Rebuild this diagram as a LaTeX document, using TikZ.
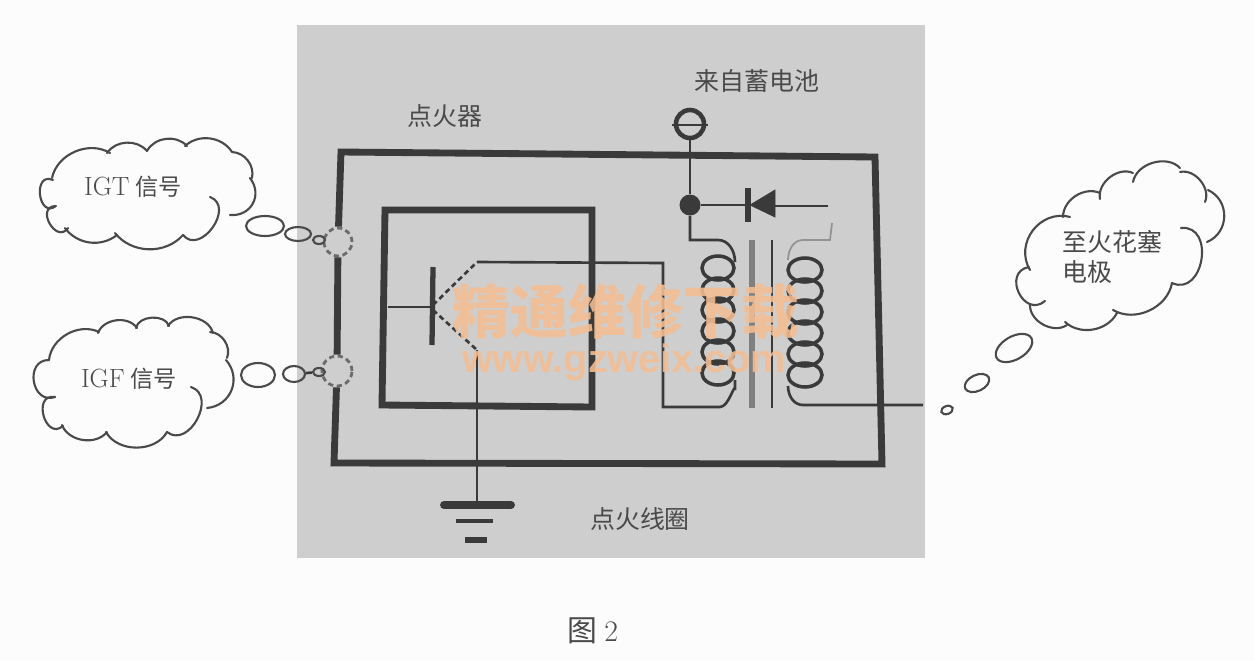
\documentclass[tikz,border=0pt]{standalone}
\usepackage{fontspec}
\usepackage{xcolor}
\usetikzlibrary{shapes.geometric}
\newfontfamily\cjk{Noto Sans CJK SC}
\newfontfamily\wmfont{Liberation Sans}
\definecolor{panelgray}{HTML}{CECECE}
\definecolor{wirecol}{HTML}{3A3A3A}
\definecolor{inkcol}{HTML}{4A4A4A}
\definecolor{markcol}{HTML}{F4BE92}
\tikzset{
  frameline/.style={draw=wirecol, line width=3.9pt, line join=miter},
  wire/.style={draw=wirecol, line width=1.5pt},
  coilline/.style={draw=wirecol, line width=2pt},
  cloudline/.style={draw=inkcol, line width=1.2pt, line cap=round},
  bubble/.style={draw=inkcol, line width=1.2pt, ellipse, inner sep=0pt},
  terminal/.style={circle, draw=wirecol!75, line width=1.6pt, densely dashed, inner sep=0pt, minimum size=0.56cm},
  lab/.style={text=inkcol, inner sep=0pt, font=\fontsize{14.2}{17}\selectfont\cjk},
  cloudlab/.style={text=inkcol, inner sep=0pt, align=left, font=\fontsize{13.2}{17}\selectfont\cjk},
}

\begin{document}
\begin{tikzpicture}[x=0.02cm, y=-0.02cm]
\useasboundingbox (0,0) rectangle (1254,660);
\fill[white!99!black] (0,0) rectangle (1254,660);
\fill[panelgray] (297,25) rectangle (925,558);

% Terminals and junction
\node[terminal] (igt) at (338,242) {};
\node[terminal, minimum size=0.6cm] (igf) at (337,371) {};
\node[circle, draw=wirecol, line width=2.6pt, inner sep=0pt, minimum size=0.56cm] (bat) at (690,124) {};
\node[circle, fill=wirecol, inner sep=0pt, minimum size=0.42cm] (junction) at (690,205) {};
\draw [wire] (672,125) -- (708,125);

% Outer and inner frame
\draw [frameline] (igt) -- (341,152) -- (875,157) -- (882,464) -- (334,463) -- (igf);
\draw [frameline] (igt) -- (igf);
\draw [frameline] (385,210) -- (592,210) -- (592,407) -- (382,405) -- cycle;

% Transistor
\draw [wirecol, line width=3pt] (433,267) -- (432,345);
\draw [wirecol, line width=1pt] (388,307) -- (433,307);
\draw [wire, densely dashed] (433,305) -- (477,262);
\draw [wire, densely dashed] (433,310) -- (477,350);
\draw [wire] (477,262) -- (663,263) -- (663,407) -- (720,407) to [out=0,in=90] (735,390) -- (735,380);
\draw [wire] (477,350) -- (477,502);

% Ground
\draw [wirecol, line width=4.5pt, line cap=round] (444,505) -- (511,505);
\draw [wirecol, line width=2pt] (456,521) -- (493,521);
\draw [wirecol, line width=3pt] (465,540) -- (487,540);

% Battery feed and diode
\draw [wire] (bat) -- (junction);
\draw [wire] (junction) -- (748,205);
\draw [wirecol, line width=3pt] (748,188) -- (748,222);
\filldraw [wirecol] (750,205) -- (775,190) -- (775,217) -- cycle;
\draw [wire] (775,206) -- (828,206);
\draw [wire] (junction) -- (690,240) -- (718,240) to [out=0,in=90] (735,262);

% Primary coil
\draw [coilline] (718,268) ellipse [x radius=16, y radius=12];
\draw [coilline] (718,290) ellipse [x radius=16, y radius=12];
\draw [coilline] (718,310) ellipse [x radius=16, y radius=12];
\draw [coilline] (718,331) ellipse [x radius=16, y radius=12];
\draw [coilline] (718,352) ellipse [x radius=16, y radius=12];
\draw [coilline] (718,373) ellipse [x radius=16, y radius=12];

% Core
\draw [wirecol!65, line width=3pt] (752,240) -- (752,408);
\draw [wirecol, line width=1.6pt] (772,240) -- (772,408);

% Secondary coil
\draw [coilline] (805,270) ellipse [x radius=17, y radius=12];
\draw [coilline] (805,291) ellipse [x radius=17, y radius=12];
\draw [coilline] (805,312) ellipse [x radius=17, y radius=12];
\draw [coilline] (805,333) ellipse [x radius=17, y radius=12];
\draw [coilline] (805,354) ellipse [x radius=17, y radius=12];
\draw [coilline] (805,375) ellipse [x radius=17, y radius=12];
\draw [wirecol!55, line width=1pt] (788,260) to [out=90,in=180] (803,240) -- (830,240) -- (832,223);
\draw [wire] (788,386) to [out=270,in=180] (803,405) -- (923,405);

% Cloud of IGT
\draw [cloudline] (52,178) to [bend left=55] (110,153);
\draw [cloudline] (107,153) to [bend left=53] (147,151);
\draw [cloudline] (147,151) to [bend left=55] (187,146);
\draw [cloudline] (185,146) to [bend left=50] (232,152);
\draw [cloudline] (232,152) to [bend left=50] (252,178);
\draw [cloudline] (250,178) to [bend left=66, looseness=1.3] (230,215);
\draw [cloudline] (210,197) to [bend left=105, looseness=1.5] (183,235);
\draw [cloudline] (183,235) to [bend left=50] (115,233);
\draw [cloudline] (117,235) to [bend left=46] (65,228);
\draw [cloudline] (68,228) to [bend left=115, looseness=2] (55,206);
\draw [cloudline] (56,206) to [bend left=120, looseness=2.2] (53,180);
\node[cloudlab] (igtlabel) at (133,187) {{\rmfamily\fontsize{15}{17}\selectfont IGT}\hspace{0.25em}信号};

% Cloud of IGF
\draw [cloudline] (49,360) to [bend left=55] (99,332);
\draw [cloudline] (98,333) to [bend left=63] (137,328);
\draw [cloudline] (136,328) to [bend left=76] (169,326);
\draw [cloudline] (168,326) to [bend left=67] (213,333);
\draw [cloudline] (210,332) to [bend left=55] (227,358);
\draw [cloudline] (226,360) to [bend left=63, looseness=1.2] (207,408);
\draw [cloudline] (191,387) to [bend left=100, looseness=1.4] (167,432);
\draw [cloudline] (167,432) to [bend left=61] (106,432);
\draw [cloudline] (107,432) to [bend left=60] (62,425);
\draw [cloudline] (63,426) to [bend left=115, looseness=2] (55,397);
\draw [cloudline] (55,397) to [bend left=100, looseness=1.7] (49,360);
\node[cloudlab] (igflabel) at (129,379) {{\rmfamily\fontsize{15}{17}\selectfont IGF}\hspace{0.25em}信号};

% Cloud of spark plug
\draw [cloudline] (1045,301) to [bend left=105, looseness=1.9] (1029,267);
\draw [cloudline] (1030,270) to [bend left=68, looseness=1.2] (1070,217);
\draw [cloudline] (1063,217) to [bend left=57] (1100,193);
\draw [cloudline] (1100,199) to [bend left=63] (1133,173);
\draw [cloudline] (1133,182) to [bend left=63] (1180,168);
\draw [cloudline] (1180,172) to [bend left=63] (1205,202);
\draw [cloudline] (1208,190) to [bend left=66, looseness=1.2] (1207,242);
\draw [cloudline] (1181,228) to [bend left=105, looseness=1.6] (1172,283);
\draw [cloudline] (1172,283) to [bend left=55] (1113,310);
\draw [cloudline] (1117,313) to [bend left=52] (1065,322);
\draw [cloudline] (1067,325) to [bend left=63] (1030,305);
\node[cloudlab, anchor=north west, font=\fontsize{14.2}{17.2}\selectfont\cjk] (pluglabel) at (1062,230) {至火花塞\\电极};

% Bubbles
\node[bubble, minimum width=0.76cm, minimum height=0.4cm] (igta) at (265,226) {};
\node[bubble, minimum width=0.52cm, minimum height=0.28cm] (igtb) at (298,234) {};
\node[bubble, minimum width=0.24cm, minimum height=0.16cm] (igtc) at (319,240) {};
\node[bubble, minimum width=0.68cm, minimum height=0.48cm] (igfa) at (258,375) {};
\node[bubble, minimum width=0.44cm, minimum height=0.32cm] (igfb) at (294,374) {};
\node[bubble, minimum width=0.24cm, minimum height=0.16cm] (igfc) at (319,372) {};
\draw [wire] (igfb) -- (igfc);
\node[bubble, rotate=30, minimum width=0.8cm, minimum height=0.46cm] (pluga) at (1014,348) {};
\node[bubble, rotate=25, minimum width=0.52cm, minimum height=0.32cm] (plugb) at (977,383) {};
\node[bubble, rotate=20, minimum width=0.24cm, minimum height=0.16cm] (plugc) at (947,410) {};

% Labels
\node[lab] (igniter) at (445,116) {点火器};
\node[lab] (battery) at (757,81) {来自蓄电池};
\node[lab] (coil) at (640,519) {点火线圈};
\node[lab, font=\fontsize{17}{20}\selectfont\cjk] (figlabel) at (593,631) {图 {\rmfamily 2}};

% Watermark
\node[text=markcol, opacity=0.88, inner sep=0pt, font=\fontsize{33}{34}\selectfont\cjk\bfseries] (markcn) at (626,312) {精通维修下载};
\node[text=markcol, opacity=0.88, inner sep=0pt, font=\fontsize{22.5}{24}\selectfont\wmfont\bfseries] (markurl) at (624,362) {www.gzweix.com};

\end{tikzpicture}
\end{document}
